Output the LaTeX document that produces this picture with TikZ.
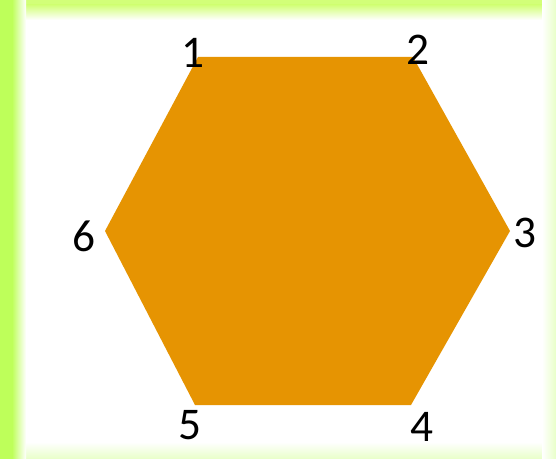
\documentclass[tikz,border=0pt]{standalone}
\usepackage{fontspec}
\setmainfont{Carlito}
\definecolor{hexorange}{RGB}{230,148,2}
\definecolor{framegreen}{RGB}{190,255,90}
\definecolor{topgreen}{RGB}{210,255,120}
\definecolor{paleframe}{RGB}{232,255,200}
\tikzset{every picture/.style={line width=0.75pt}}
\tikzset{vlabel/.style={inner sep=0.75pt,font=\fontsize{34}{40}\selectfont}}

\begin{document}
\begin{tikzpicture}[x=0.75pt,y=0.75pt,yscale=-1,xscale=1]
        % soft frame
        \fill [white] (0,0) rectangle (556,459);
        \fill [topgreen] (0,0) rectangle (556,5);
        \shade [top color=topgreen, bottom color=white] (0,5) rectangle (556,20);
        \shade [top color=white, bottom color=paleframe] (0,442) rectangle (556,459);
        \shade [left color=white, right color=paleframe] (542,0) rectangle (556,459);
        \fill [framegreen] (0,0) rectangle (12,459);
        \shade [left color=framegreen, right color=white] (12,0) rectangle (26,459);
        \useasboundingbox (0,0) rectangle (556,459);

        % corners of the hexagon
        \coordinate (v1) at (198,57);
        \coordinate (v2) at (413,57);
        \coordinate (v3) at (510,231);
        \coordinate (v4) at (411,405);
        \coordinate (v5) at (195,405);
        \coordinate (v6) at (105,231);
        \fill [hexorange] (v1) -- (v2) -- (v3) -- (v4) -- (v5) -- (v6) -- cycle;

        \draw (193,53) node [vlabel] (n1) {1};
        \draw (418,50) node [vlabel] (n2) {2};
        \draw (525,233) node [vlabel] (n3) {3};
        \draw (422,427) node [vlabel] (n4) {4};
        \draw (190,425) node [vlabel] (n5) {5};
        \draw (84,236) node [vlabel] (n6) {6};
    \end{tikzpicture}
\end{document}
